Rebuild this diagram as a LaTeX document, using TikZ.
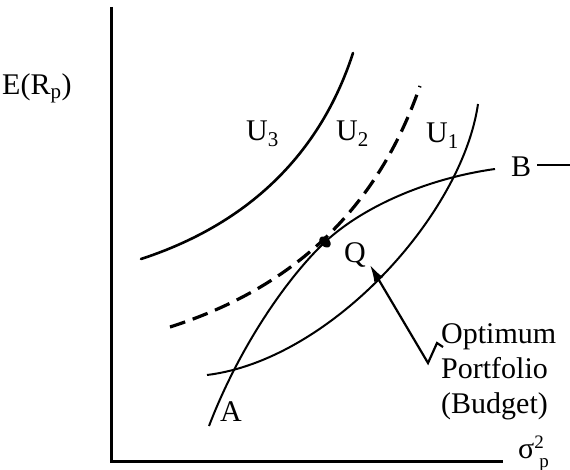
\documentclass[tikz,border=0pt]{standalone}
\usepackage{fontspec}
\setmainfont{Liberation Serif}
\usetikzlibrary{arrows.meta}

\begin{document}
\begin{tikzpicture}[x=1pt, y=-1pt,
    axisline/.style={line width=3pt},
    curveline/.style={line width=2pt},
    boldcurve/.style={line width=2.6pt, line cap=round},
    dashcurve/.style={line width=3.2pt, dash pattern=on 16pt off 8pt},
    every node/.style={inner sep=0pt, font=\fontsize{30}{35}\selectfont}
]
\useasboundingbox (0,0) rectangle (570,470);
% axes
\coordinate (origin) at (111,461);
\draw [axisline] (111,7) -- (origin) -- (503,461);
\node [anchor=base west] (yl) at (2,95) {E(R\textsubscript{p})};
\node [anchor=base west] (xl) at (518,458)
    {σ\rlap{\raisebox{10pt}{\fontsize{19}{19}\selectfont 2}}\kern5pt\raisebox{-9pt}{\fontsize{19}{19}\selectfont p}};
% indifference curves
\draw [boldcurve] (141,259) .. controls (230,230) and (315,170) .. (353,53);
\draw [dashcurve] (170,327) .. controls (270,295) and (370,230) .. (420,86);
\draw [curveline] (207,375) .. controls (330,360) and (462,215) .. (478,104);
% efficient set
\coordinate (tang) at (325,242);
\draw [curveline] (209,426) .. controls (238,350) and (285,280) .. (tang)
    .. controls (365,205) and (430,178) .. (495,169);
\fill [rotate around={-42:(tang)}] (tang) ellipse (6.5pt and 4.5pt);
\coordinate (bend) at (537,165);
\draw [line width=2.2pt] (bend) -- (570,165);
% labels
\node [anchor=base west] (u3) at (246,141) {U\textsubscript{3}};
\node [anchor=base west] (u2) at (336,141) {U\textsubscript{2}};
\node [anchor=base west] (u1) at (426,143) {U\textsubscript{1}};
\node [anchor=base west] (b) at (511,177) {B};
\node [anchor=base west] (q) at (344,263) {Q};
\node [anchor=base west] (a) at (220,421) {A};
\node [anchor=base west, align=left] (note) at (441,413) {Optimum\\Portfolio\\(Budget)};
% pointer
\coordinate (qtip) at (370,265);
\coordinate (zig) at (443,347);
\draw [line width=2.2pt, -{Latex[length=17pt, width=10pt]}]
    (zig) -- (437,343) -- (428,363) -- (qtip);
\end{tikzpicture}
\end{document}
